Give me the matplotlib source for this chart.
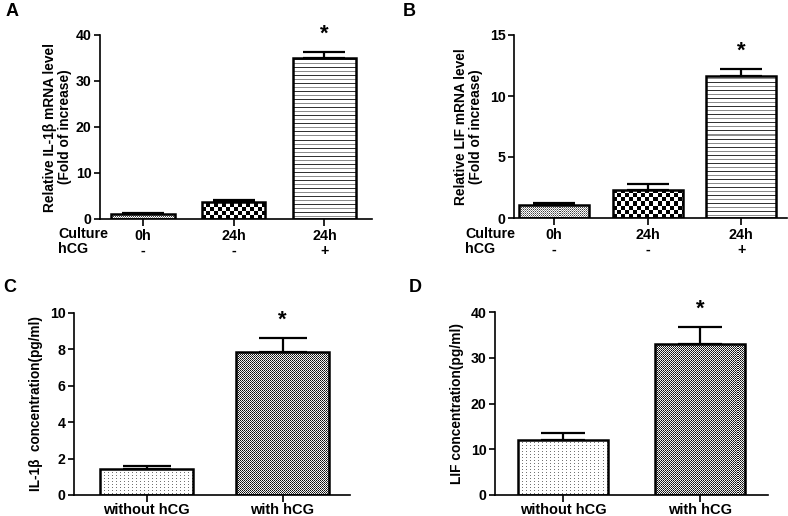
import numpy as np
import matplotlib
matplotlib.use("Agg")
import matplotlib.pyplot as plt

plt.rcParams['font.family'] = ['Liberation Sans', 'DejaVu Sans']
plt.rcParams['font.weight'] = 'bold'

# ---------------- data ----------------
a_labels_culture = ["0h", "24h", "24h"]
a_labels_hcg = ["-", "-", "+"]
a_values = [1.0, 3.6, 35.0]
a_errors = [0.3, 0.6, 1.2]

b_values = [1.05, 2.3, 11.65]
b_errors = [0.15, 0.45, 0.55]

cd_labels = ["without hCG", "with hCG"]
c_values = [1.42, 7.85]
c_errors = [0.2, 0.75]
d_values = [12.0, 32.9]
d_errors = [1.5, 3.8]

W, H = 788, 516
fig = plt.figure(figsize=(W / 100, H / 100), dpi=100)


def axes_px(left, right, top, bottom):
    return fig.add_axes([left / W, 1 - bottom / H, (right - left) / W, (bottom - top) / H])


# tiles (gray levels 0=black, 1=white)
T_FINE = np.array([[0.25, 1.0], [1.0, 0.55]])
T_CHECK = np.array([[0.0, 1.0], [1.0, 0.0]])
T_LINES = np.array([[1.0], [1.0], [0.55], [1.0], [1.0], [1.0], [0.2], [1.0]])
T_DOTS = np.array([[1.0, 1.0, 1.0, 1.0], [0.45, 1.0, 1.0, 1.0], [1.0, 1.0, 1.0, 1.0]])
T_DENSE = np.array([[0.05, 0.95], [0.95, 0.2]])


def texture(ax, bar, tile, cell):
    x0, y0 = bar.get_x(), bar.get_y()
    w, h = bar.get_width(), bar.get_height()
    (px0, py0), (px1, py1) = ax.transData.transform([(x0, y0), (x0 + w, y0 + h)])
    pw, ph = abs(px1 - px0), abs(py1 - py0)
    nx = int(pw / cell) + 1
    ny = int(ph / cell) + 1
    ty, tx = tile.shape
    img = np.tile(tile, (ny // ty + 1, nx // tx + 1))[:ny, :nx]
    im = ax.imshow(img, cmap='gray', vmin=0, vmax=1, origin='lower',
                   extent=(x0, x0 + w * nx * cell / pw, y0, y0 + h * ny * cell / ph),
                   interpolation='nearest', aspect='auto', zorder=2.5)
    im.set_clip_path(bar)


def panel(ax, values, errors, width, xlim, ylim, yticks, tiles, capsize, ylabel,
          labelpad, ylabel_size):
    x = np.arange(len(values))
    ax.set_xlim(*xlim)
    ax.set_ylim(*ylim)
    ax.set_autoscale_on(False)
    ax.errorbar(x, values, yerr=[np.zeros(len(errors)), errors], fmt='none',
                ecolor='black', elinewidth=1.6, capsize=capsize, capthick=1.6, zorder=1)
    bars = ax.bar(x, values, width=width, color='white', edgecolor='none', zorder=2)
    for b, (tile, cell) in zip(bars, tiles):
        texture(ax, b, tile, cell)
    ax.bar(x, values, width=width, fill=False, edgecolor='black', linewidth=1.8, zorder=3)
    for s in ['top', 'right']:
        ax.spines[s].set_visible(False)
    for s in ['left', 'bottom']:
        ax.spines[s].set_linewidth(1.2)
    ax.set_yticks(yticks)
    ax.tick_params(axis='y', length=4, width=1.2, labelsize=10.2, pad=2)
    ax.tick_params(axis='x', length=5, width=1.2, pad=2)
    ax.set_xticks(x)
    ax.set_ylabel(ylabel, fontsize=ylabel_size, fontweight='bold', labelpad=labelpad,
                  linespacing=1.1)
    # significance star
    i = len(values) - 1
    ax.annotate('*', xy=(x[i], values[i] + errors[i]), xytext=(0, 13),
                textcoords='offset points', ha='center', va='center',
                fontsize=16, fontweight='bold')
    return x


# ---------- A ----------
axA = axes_px(100, 372, 35, 219)
xA = panel(axA, a_values, a_errors, 0.70, (-0.474, 2.524), (0, 40), [0, 10, 20, 30, 40],
           [(T_FINE, 1), (T_CHECK, 4), (T_LINES, 1)], 15,
           "Relative IL-1\u03b2 mRNA level\n(Fold of increase)", 3, 9.9)
axA.set_xticklabels([c + "\n" + h for c, h in zip(a_labels_culture, a_labels_hcg)],
                    fontsize=10.3, linespacing=1.1)

# ---------- B ----------
axB = axes_px(514, 787, 35, 218)
xB = panel(axB, b_values, b_errors, 0.75, (-0.43, 2.49), (0, 15), [0, 5, 10, 15],
           [(T_FINE, 1), (T_CHECK, 4), (T_LINES, 1)], 15,
           "Relative LIF mRNA level\n(Fold of increase)", 5, 9.9)
axB.set_xticklabels([c + "\n" + h for c, h in zip(a_labels_culture, a_labels_hcg)],
                    fontsize=10.3, linespacing=1.1)

for xl in (58, 465):
    fig.text(xl / W, 1 - 234 / H, "Culture", fontsize=10.3, fontweight='bold',
             ha='left', va='center')
    fig.text(xl / W, 1 - 249 / H, "hCG", fontsize=10.3, fontweight='bold',
             ha='left', va='center')

# ---------- C ----------
axC = axes_px(74, 350, 313, 495)
panel(axC, c_values, c_errors, 0.68, (-0.533, 1.496), (0, 10), [0, 2, 4, 6, 8, 10],
      [(T_DOTS, 1), (T_DENSE, 1)], 17, "IL-1\u03b2  concentration(pg/ml)", 5, 9.8)
axC.set_xticklabels(cd_labels, fontsize=10.5)
axC.tick_params(axis='x', pad=1)

# ---------- D ----------
axD = axes_px(495, 768, 312, 495)
panel(axD, d_values, d_errors, 0.66, (-0.496, 1.496), (0, 40), [0, 10, 20, 30, 40],
      [(T_DOTS, 1), (T_DENSE, 1)], 16, "LIF concentration(pg/ml)", 5, 9.9)
axD.set_xticklabels(cd_labels, fontsize=10.5)
axD.tick_params(axis='x', pad=1)

# panel letters
for lab, (px, py) in {"A": (12, 12), "B": (409, 12), "C": (10, 288), "D": (415, 288)}.items():
    fig.text(px / W, 1 - py / H, lab, fontsize=13, fontweight='bold',
             ha='center', va='center')

fig.savefig("out.png", dpi=100)
